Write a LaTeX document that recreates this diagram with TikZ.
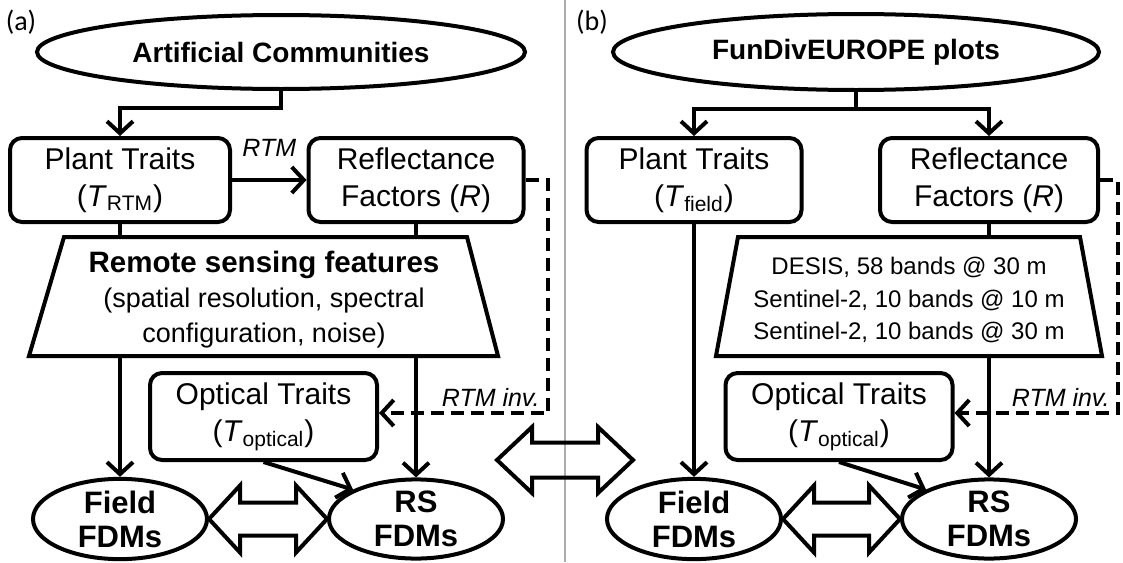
\documentclass[tikz,border=0pt]{standalone}
\usepackage{fontspec}
\setmainfont{Liberation Sans}
\newfontfamily\labfont{Carlito}
\usetikzlibrary{arrows.meta,calc,shapes.geometric}
\tikzset{
  lw/.style={line width=2pt},
  box/.style={draw, lw, rounded corners=6pt, align=center, inner sep=0pt,
    minimum height=42pt, font=\fontsize{15}{18.5}\selectfont},
  obox/.style={box, minimum height=43.5pt, minimum width=113.5pt},
  oval/.style={draw, lw, ellipse, inner sep=0pt, align=center},
  title/.style={oval, font=\fontsize{14}{17}\selectfont\bfseries},
  fdm/.style={oval, minimum width=87pt, minimum height=38pt, font=\fontsize{15.5}{17}\selectfont\bfseries},
  arr/.style={lw, -{Straight Barb[length=6pt, width=13pt]}},
  dasharr/.style={arr, dash pattern=on 6.5pt off 3.5pt},
  lbl/.style={font=\fontsize{12.5}{14}\selectfont\itshape, inner sep=0pt},
  panel/.style={font=\fontsize{14}{16}\selectfont\labfont, inner sep=0pt},
  trap/.style={draw, lw, line join=miter},
  fat/.style={draw, lw, line join=miter},
  divider/.style={draw=black!32, line width=1pt},
}
\newcommand{\fatarr}[5]{\path[fat] let \p1=(#1), \p2=(#2) in
  (\x1,\y1) -- (\x1+#3,\y1+#4) -- (\x1+#3,\y1+#5) -- (\x2-#3,\y2+#5) --
  (\x2-#3,\y2+#4) -- (\x2,\y2) -- (\x2-#3,\y2-#4) -- (\x2-#3,\y2-#5) --
  (\x1+#3,\y1-#5) -- (\x1+#3,\y1-#4) -- cycle;}
\begin{document}
\begin{tikzpicture}[x=0.5pt,y=-0.5pt]
\useasboundingbox (0,0) rectangle (1123,562);
\draw[divider] (565,0) -- (565,562);
\node[panel] (la) at (21,22) {(a)};
\node[panel] (lb) at (592,22) {(b)};

% ---------- panel (a)
\node[title, minimum width=244pt, minimum height=37pt] (topA) at (281,52) {Artificial Communities};
\node[box, minimum width=110pt] (ptA) at (120,180) {Plant Traits\\(\textit{T}\textsubscript{RTM})};
\node[box, minimum width=107.5pt] (rfA) at (416,180) {Reflectance\\Factors (\textit{R})};
\path[trap] (64,237) coordinate (tAtl) -- (467,237) -- (498,356) -- (29,356) coordinate (tAbl) -- cycle;
\node[align=center, inner sep=0pt, font=\fontsize{13.5}{17.5}\selectfont] (rsfA) at (264,300)
  {{\fontsize{14.75}{17.5}\selectfont\bfseries Remote sensing features}\\(spatial resolution, spectral\\configuration, noise)};
\node[obox] (opA) at (263.5,416.5) {Optical Traits\\(\textit{T}\textsubscript{optical})};
\node[fdm] (fA) at (120,519) {Field\\FDMs};
\node[fdm] (rsA) at (416,519) {RS\\FDMs};
\coordinate (dA1) at (548,180);
\coordinate (dA2) at (548,413);

\draw[arr] (topA.south) -- ++(0,17) -| (ptA.north);
\draw[arr] (ptA.east) -- node[lbl, above=11pt] (rtmA) {RTM} (rfA.west);
\draw[lw] (ptA.south) -- (ptA.south |- tAtl);
\draw[lw] (rfA.south) -- (rfA.south |- tAtl);
\draw[arr] (fA.north |- tAbl) -- (fA.north);
\draw[arr] (rsA.north |- tAbl) -- (rsA.north);
\draw[dasharr] (rfA.east) -- (dA1) -- (dA2) -- (dA2 -| opA.east);
\node[lbl, anchor=south east] (invA) at ($(dA2)+(-8,-6)$) {RTM inv.};
\draw[arr] (opA.south) -- (rsA.north west);
\fatarr{fA.east}{rsA.west}{15.5pt}{16.75pt}{8.25pt}

% ---------- panel (b)
\node[title, minimum width=243pt, minimum height=38pt] (topB) at (856,52) {FunDivEUROPE plots};
\node[box, minimum width=107.5pt] (ptB) at (694,180) {Plant Traits\\(\textit{T}\textsubscript{field})};
\node[box, minimum width=109pt] (rfB) at (989,180) {Reflectance\\Factors (\textit{R})};
\path[trap] (738,237) coordinate (tBtl) -- (1080,237) -- (1102,356) -- (716,356) coordinate (tBbl) -- cycle;
\node[align=center, inner sep=0pt, font=\fontsize{12}{16.25}\selectfont] (rsfB) at (909,300)
  {DESIS, 58 bands @ 30 m\\Sentinel-2, 10 bands @ 10 m\\Sentinel-2, 10 bands @ 30 m};
\node[obox] (opB) at (839,416.5) {Optical Traits\\(\textit{T}\textsubscript{optical})};
\node[fdm] (fB) at (694,519) {Field\\FDMs};
\node[fdm] (rsB) at (989,519) {RS\\FDMs};
\coordinate (dB1) at (1118,180);
\coordinate (dB2) at (1118,413);

\draw[lw] (topB.south) -- ++(0,17) coordinate (jB);
\draw[arr] (jB) -| (ptB.north);
\draw[arr] (jB) -| (rfB.north);
\draw[arr] (ptB.south) -- (fB.north);
\draw[lw] (rfB.south) -- (rfB.south |- tBtl);
\draw[arr] (rsB.north |- tBbl) -- (rsB.north);
\draw[dasharr] (rfB.east) -- (dB1) -- (dB2) -- (dB2 -| opB.east);
\node[lbl, anchor=south east] (invB) at ($(dB2)+(-8,-6)$) {RTM inv.};
\draw[arr] (opB.south) -- (rsB.north west);
\fatarr{fB.east}{rsB.west}{15.5pt}{16.75pt}{8.25pt}

% ---------- middle comparison arrow
\coordinate (bigL) at (497,460);
\coordinate (bigR) at (633,460);
\fatarr{bigL}{bigR}{17.5pt}{16.5pt}{8.75pt}
\end{tikzpicture}
\end{document}
